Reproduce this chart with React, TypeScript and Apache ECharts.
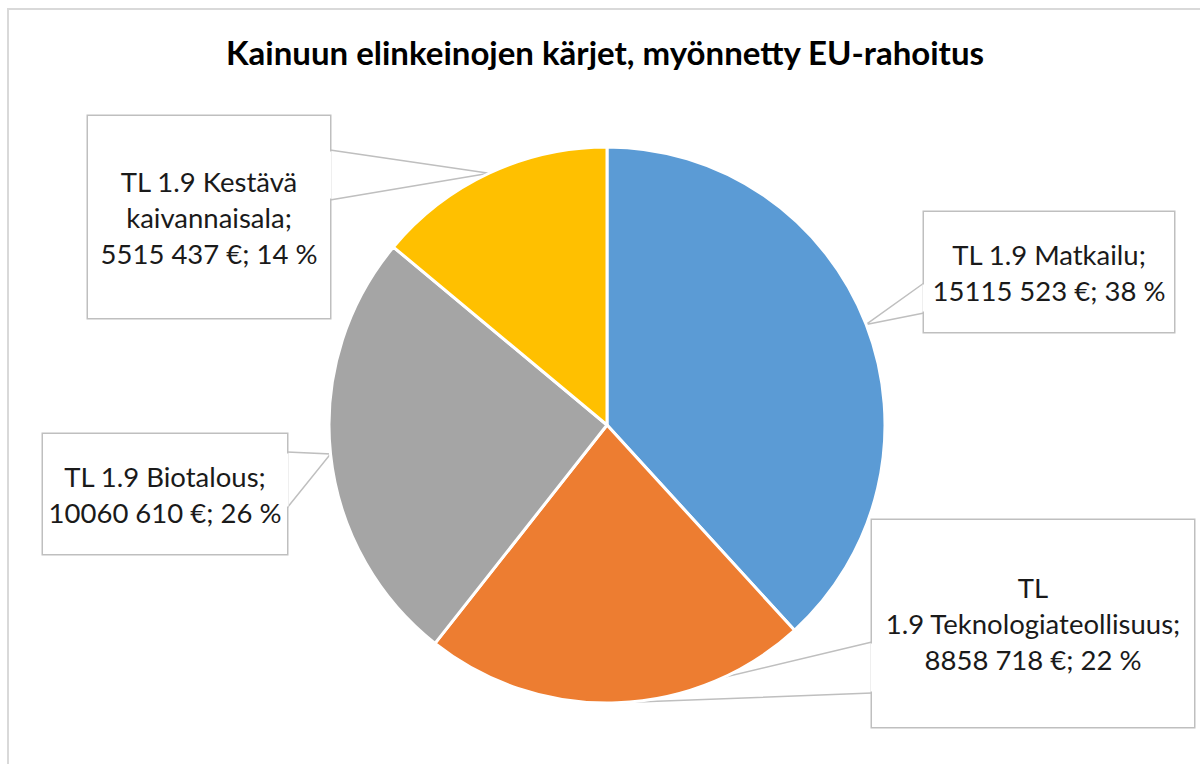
import React, { useEffect, useRef } from 'react';
import * as echarts from 'echarts';

const chartTitle = 'Kainuun elinkeinojen kärjet, myönnetty EU-rahoitus';
const categories = [
  'TL 1.9 Matkailu',
  'TL\n1.9 Teknologiateollisuus',
  'TL 1.9 Biotalous',
  'TL 1.9 Kestävä\nkaivannaisala',
];
const values = [15115523, 8858718, 10060610, 5515437];
const percentLabels = [38, 22, 26, 14];
const colors = ['#5B9BD5', '#ED7D31', '#A5A5A5', '#FFC000'];

// callout boxes (layout only)
const labelBoxes = [
  { left: 924, top: 212, width: 250, height: 120, side: 'left', w1: 71, w2: 101 },
  { left: 872, top: 520, width: 322, height: 207, side: 'left', w1: 122, w2: 173 },
  { left: 43, top: 434, width: 244, height: 120, side: 'right', w1: 18, w2: 74 },
  { left: 88, top: 116, width: 242, height: 202, side: 'right', w1: 34, w2: 84 },
];

const FONT = 'Lato, "Open Sans", sans-serif';
const LH = 36;

function fmtValue(v: number): string {
  const hi = Math.floor(v / 1000);
  const lo = String(v % 1000).padStart(3, '0');
  return hi + ' ' + lo;
}

function labelText(i: number): string {
  return categories[i] + ';\n' + fmtValue(values[i]) + ' €; ' + percentLabels[i] + ' %';
}

export default function App() {
  const ref = useRef<HTMLDivElement>(null);
  useEffect(() => {
    document.body.style.margin = '0';
    if (!ref.current) return;
    const chart = echarts.init(ref.current, null, { renderer: 'svg' });
    const data = categories.map((name, i) => {
      const b = labelBoxes[i];
      const nLines = labelText(i).split('\n').length;
      const pv = (b.height - nLines * LH) / 2;
      return {
        name,
        value: values[i],
        itemStyle: { color: colors[i] },
        label: { width: b.width, padding: [pv, 0, pv, 0] },
      };
    });
    // white gaps in the callout box edges where the pointer wedge opens
    const wedgeGaps = labelBoxes.map((b) => {
      const ex = b.side === 'left' ? b.left : b.left + b.width;
      return {
        type: 'line',
        z: 100,
        silent: true,
        shape: { x1: ex, y1: b.top + b.w1 + 1.5, x2: ex, y2: b.top + b.w2 - 1.5 },
        style: { stroke: '#ffffff', lineWidth: 3 },
      };
    });
    chart.setOption({
      animation: false,
      backgroundColor: '#ffffff',
      title: {
        text: chartTitle,
        left: 600,
        top: 30,
        textAlign: 'center',
        textStyle: { fontFamily: FONT, fontSize: 33, fontWeight: 'bold', color: '#000' },
      },
      graphic: [
        {
          type: 'rect',
          shape: { x: 8, y: 9, width: 1400, height: 1000 },
          style: { fill: 'none', stroke: '#d9d9d9', lineWidth: 2 },
          silent: true,
        },
        ...wedgeGaps,
      ],
      series: [
        {
          type: 'pie',
          center: [607, 425],
          radius: 278,
          startAngle: 90,
          clockwise: true,
          avoidLabelOverlap: false,
          itemStyle: { borderColor: '#ffffff', borderWidth: 3 },
          emphasis: { disabled: true },
          label: {
            show: true,
            position: 'outside',
            formatter: (p: any) => labelText(p.dataIndex),
            fontFamily: FONT,
            fontSize: 27.5,
            lineHeight: LH,
            color: '#1a1a1a',
            align: 'center',
            backgroundColor: '#ffffff',
            borderColor: '#bfbfbf',
            borderWidth: 1.5,
          },
          labelLine: { show: true, lineStyle: { color: '#bfbfbf', width: 1.5 } },
          labelLayout: (params: any) => {
            const b = labelBoxes[params.dataIndex];
            const tip = params.labelLinePoints ? params.labelLinePoints[0] : [0, 0];
            const ex = b.side === 'left' ? b.left : b.left + b.width;
            return {
              x: b.left + b.width / 2,
              y: b.top + b.height / 2,
              align: 'center',
              verticalAlign: 'middle',
              labelLinePoints: [
                [ex, b.top + b.w1],
                tip,
                [ex, b.top + b.w2],
              ],
            };
          },
          data,
        },
      ],
    });
    return () => chart.dispose();
  }, []);
  return <div ref={ref} style={{ width: 1200, height: 764 }} />;
}
